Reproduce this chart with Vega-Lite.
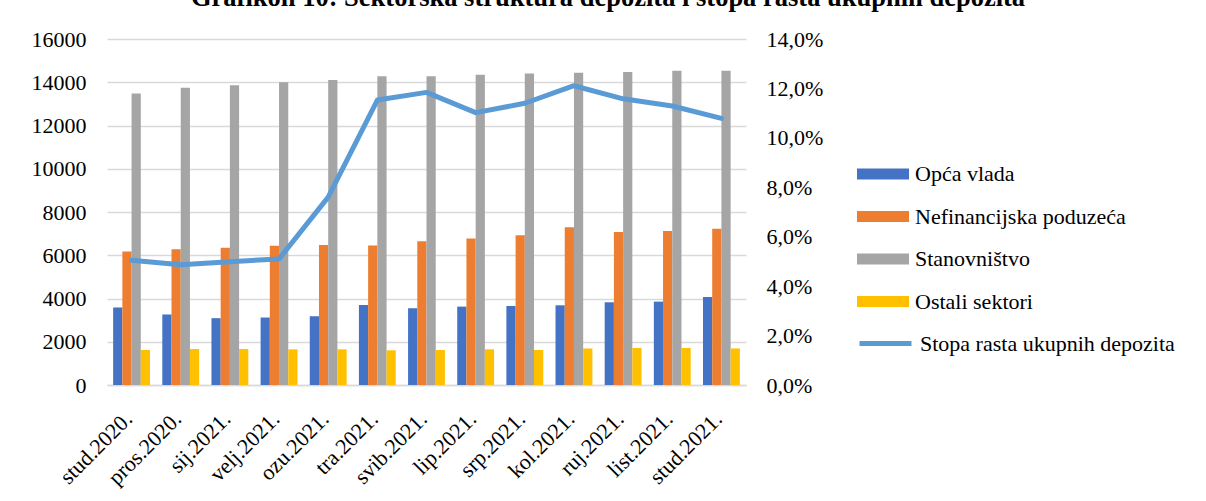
{
  "$schema": "https://vega.github.io/schema/vega-lite/v6.json",
  "width": 639,
  "height": 346,
  "autosize": {"type": "none"},
  "padding": {"left": 107, "top": 39, "right": 460, "bottom": 116},
  "background": "white",
  "config": {
    "font": "Liberation Serif",
    "view": {"stroke": null},
    "axis": {"labelFont": "Liberation Serif", "labelFontSize": 22, "labelColor": "#000000", "ticks": false, "title": null},
    "legend": {"labelFont": "Liberation Serif", "labelFontSize": 22, "labelColor": "#000000", "labelLimit": 0}
  },
  "title": {
    "text": "Grafikon 10: Sektorska struktura depozita i stopa rasta ukupnih depozita",
    "font": "Liberation Serif",
    "fontSize": 26.5,
    "fontWeight": "bold",
    "color": "#000000",
    "anchor": "start",
    "frame": "group",
    "dx": 84,
    "dy": 12,
    "offset": 8,
    "baseline": "alphabetic"
  },
  "datasets": {
    "sectors": [
      {"month": "stud.2020.", "sector": "Opća vlada", "value": 3585},
      {"month": "stud.2020.", "sector": "Nefinancijska poduzeća", "value": 6170},
      {"month": "stud.2020.", "sector": "Stanovništvo", "value": 13475},
      {"month": "stud.2020.", "sector": "Ostali sektori", "value": 1620},
      {"month": "pros.2020.", "sector": "Opća vlada", "value": 3260},
      {"month": "pros.2020.", "sector": "Nefinancijska poduzeća", "value": 6275},
      {"month": "pros.2020.", "sector": "Stanovništvo", "value": 13750},
      {"month": "pros.2020.", "sector": "Ostali sektori", "value": 1665},
      {"month": "sij.2021.", "sector": "Opća vlada", "value": 3090},
      {"month": "sij.2021.", "sector": "Nefinancijska poduzeća", "value": 6350},
      {"month": "sij.2021.", "sector": "Stanovništvo", "value": 13860},
      {"month": "sij.2021.", "sector": "Ostali sektori", "value": 1665},
      {"month": "velj.2021.", "sector": "Opća vlada", "value": 3120},
      {"month": "velj.2021.", "sector": "Nefinancijska poduzeća", "value": 6440},
      {"month": "velj.2021.", "sector": "Stanovništvo", "value": 14000},
      {"month": "velj.2021.", "sector": "Ostali sektori", "value": 1650},
      {"month": "ozu.2021.", "sector": "Opća vlada", "value": 3180},
      {"month": "ozu.2021.", "sector": "Nefinancijska poduzeća", "value": 6470},
      {"month": "ozu.2021.", "sector": "Stanovništvo", "value": 14100},
      {"month": "ozu.2021.", "sector": "Ostali sektori", "value": 1650},
      {"month": "tra.2021.", "sector": "Opća vlada", "value": 3700},
      {"month": "tra.2021.", "sector": "Nefinancijska poduzeća", "value": 6450},
      {"month": "tra.2021.", "sector": "Stanovništvo", "value": 14280},
      {"month": "tra.2021.", "sector": "Ostali sektori", "value": 1605},
      {"month": "svib.2021.", "sector": "Opća vlada", "value": 3550},
      {"month": "svib.2021.", "sector": "Nefinancijska poduzeća", "value": 6645},
      {"month": "svib.2021.", "sector": "Stanovništvo", "value": 14280},
      {"month": "svib.2021.", "sector": "Ostali sektori", "value": 1620},
      {"month": "lip.2021.", "sector": "Opća vlada", "value": 3625},
      {"month": "lip.2021.", "sector": "Nefinancijska poduzeća", "value": 6770},
      {"month": "lip.2021.", "sector": "Stanovništvo", "value": 14350},
      {"month": "lip.2021.", "sector": "Ostali sektori", "value": 1650},
      {"month": "srp.2021.", "sector": "Opća vlada", "value": 3655},
      {"month": "srp.2021.", "sector": "Nefinancijska poduzeća", "value": 6920},
      {"month": "srp.2021.", "sector": "Stanovništvo", "value": 14410},
      {"month": "srp.2021.", "sector": "Ostali sektori", "value": 1620},
      {"month": "kol.2021.", "sector": "Opća vlada", "value": 3685},
      {"month": "kol.2021.", "sector": "Nefinancijska poduzeća", "value": 7290},
      {"month": "kol.2021.", "sector": "Stanovništvo", "value": 14440},
      {"month": "kol.2021.", "sector": "Ostali sektori", "value": 1690},
      {"month": "ruj.2021.", "sector": "Opća vlada", "value": 3825},
      {"month": "ruj.2021.", "sector": "Nefinancijska poduzeća", "value": 7080},
      {"month": "ruj.2021.", "sector": "Stanovništvo", "value": 14470},
      {"month": "ruj.2021.", "sector": "Ostali sektori", "value": 1710},
      {"month": "list.2021.", "sector": "Opća vlada", "value": 3855},
      {"month": "list.2021.", "sector": "Nefinancijska poduzeća", "value": 7120},
      {"month": "list.2021.", "sector": "Stanovništvo", "value": 14530},
      {"month": "list.2021.", "sector": "Ostali sektori", "value": 1710},
      {"month": "stud.2021.", "sector": "Opća vlada", "value": 4070},
      {"month": "stud.2021.", "sector": "Nefinancijska poduzeća", "value": 7230},
      {"month": "stud.2021.", "sector": "Stanovništvo", "value": 14530},
      {"month": "stud.2021.", "sector": "Ostali sektori", "value": 1690}
    ],
    "growth": [
      {"month": "stud.2020.", "rate": 5.05},
      {"month": "pros.2020.", "rate": 4.87},
      {"month": "sij.2021.", "rate": 4.99},
      {"month": "velj.2021.", "rate": 5.10},
      {"month": "ozu.2021.", "rate": 7.60},
      {"month": "tra.2021.", "rate": 11.53},
      {"month": "svib.2021.", "rate": 11.84},
      {"month": "lip.2021.", "rate": 11.02},
      {"month": "srp.2021.", "rate": 11.40},
      {"month": "kol.2021.", "rate": 12.11},
      {"month": "ruj.2021.", "rate": 11.58},
      {"month": "list.2021.", "rate": 11.29},
      {"month": "stud.2021.", "rate": 10.79}
    ]
  },
  "layer": [
    {
      "data": {"name": "sectors"},
      "mark": {"type": "bar"},
      "encoding": {
        "x": {
          "field": "month", "type": "nominal",
          "sort": ["stud.2020.", "pros.2020.", "sij.2021.", "velj.2021.", "ozu.2021.", "tra.2021.", "svib.2021.", "lip.2021.", "srp.2021.", "kol.2021.", "ruj.2021.", "list.2021.", "stud.2021."],
          "scale": {"paddingInner": 0.25, "paddingOuter": 0.125},
          "axis": {"labelAngle": -45, "labelAlign": "right", "labelBaseline": "middle", "domainColor": "#D9D9D9", "domainWidth": 1.5, "labelPadding": 30, "labelOffset": -3, "grid": false}
        },
        "xOffset": {
          "field": "sector", "type": "nominal",
          "sort": ["Opća vlada", "Nefinancijska poduzeća", "Stanovništvo", "Ostali sektori"],
          "scale": {"paddingInner": 0, "paddingOuter": 0}
        },
        "y": {
          "field": "value", "type": "quantitative",
          "scale": {"domain": [0, 16000], "nice": false},
          "axis": {"values": [0, 2000, 4000, 6000, 8000, 10000, 12000, 14000, 16000], "format": "d", "domain": false, "gridColor": "#D9D9D9", "gridWidth": 1.5, "labelPadding": 21}
        },
        "color": {
          "field": "sector", "type": "nominal",
          "sort": ["Opća vlada", "Nefinancijska poduzeća", "Stanovništvo", "Ostali sektori"],
          "scale": {"domain": ["Opća vlada", "Nefinancijska poduzeća", "Stanovništvo", "Ostali sektori"], "range": ["#4472C4", "#ED7D31", "#A5A5A5", "#FFC000"]},
          "legend": {
            "orient": "none", "legendX": 750, "legendY": 109, "title": null, "padding": 0,
            "symbolType": "M-1,-0.21H1V0.21H-1Z", "symbolSize": 2704, "symbolStrokeWidth": 0, "symbolOpacity": 1,
            "rowPadding": 5.5, "labelOffset": 6
          }
        }
      }
    },
    {
      "data": {"name": "growth"},
      "mark": {"type": "line", "strokeWidth": 5, "strokeCap": "round", "strokeJoin": "round"},
      "encoding": {
        "x": {
          "field": "month", "type": "nominal",
          "sort": ["stud.2020.", "pros.2020.", "sij.2021.", "velj.2021.", "ozu.2021.", "tra.2021.", "svib.2021.", "lip.2021.", "srp.2021.", "kol.2021.", "ruj.2021.", "list.2021.", "stud.2021."]
        },
        "y": {
          "field": "rate", "type": "quantitative",
          "scale": {"domain": [0, 14], "nice": false},
          "axis": {"orient": "right", "values": [0, 2, 4, 6, 8, 10, 12, 14], "grid": false, "domain": false, "labelPadding": 20,
            "labelExpr": "replace(format(datum.value, '.1f'), '.', ',') + '%'"}
        },
        "stroke": {
          "datum": "Stopa rasta ukupnih depozita",
          "scale": {"range": ["#5B9BD5"]},
          "legend": {
            "orient": "none", "legendX": 750, "legendY": 276, "title": null, "padding": 0,
            "symbolType": "stroke", "symbolSize": 2704, "symbolStrokeWidth": 5, "symbolStrokeColor": "#5B9BD5",
            "labelOffset": 6
          }
        }
      }
    }
  ],
  "resolve": {"scale": {"y": "independent"}}
}
